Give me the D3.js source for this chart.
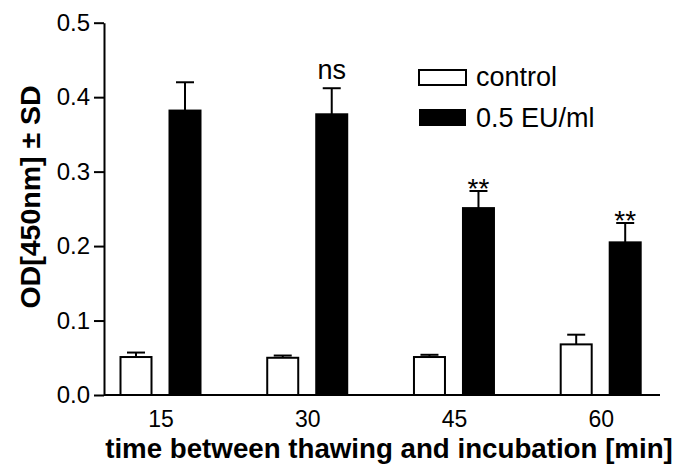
<!DOCTYPE html>
<html>
<head>
<meta charset="utf-8">
<script src="https://cdn.jsdelivr.net/npm/d3@7"></script>
<style>
  html, body { margin: 0; padding: 0; background: #fff; }
  svg { display: block; }
  text { font-family: "Liberation Sans", Arial, Helvetica, sans-serif; fill: #000; }
</style>
</head>
<body>
<div id="chart"></div>
<script>
// time between thawing and incubation [min]
const categories = ['15', '30', '45', '60'];
const series = ['control', '0.5 EU/ml'];

// mean OD values and SD per group
const controlValues = [0.051, 0.050, 0.051, 0.068];
const controlSD = [0.006, 0.003, 0.003, 0.013];
const endotoxinValues = [0.382, 0.377, 0.251, 0.205];
const endotoxinSD = [0.038, 0.035, 0.023, 0.026];

// significance marks above the 0.5 EU/ml bars
const significance = ['', 'ns', '**', '**'];

const yTicks = [0, 0.1, 0.2, 0.3, 0.4, 0.5];

const width = 675, height = 464;
const margin = { top: 22.7, right: 15, bottom: 69, left: 104 };

const svg = d3.select('#chart')
    .append('svg')
    .attr('width', width)
    .attr('height', height);

const y = d3.scaleLinear()
    .domain([0, 0.5])
    .range([height - margin.bottom, margin.top]);

// group centres
const x = d3.scalePoint()
    .domain(categories)
    .range([160.5, 600.7]);

// bars inside a group
const xSub = d3.scaleBand()
    .domain(series)
    .range([-41, 41])
    .paddingInner(16 / 49);

const fills = { 'control': '#fff', '0.5 EU/ml': '#000' };

const rows = categories.map((c, i) => ({
    cat: c,
    bars: [
        { key: 'control', value: controlValues[i], sd: controlSD[i], mark: '' },
        { key: '0.5 EU/ml', value: endotoxinValues[i], sd: endotoxinSD[i], mark: significance[i] }
    ]
}));

const g = svg.append('g');

const bars = g.selectAll('g.group')
    .data(rows)
    .join('g')
    .attr('class', 'group')
    .attr('transform', d => `translate(${x(d.cat)},0)`)
    .selectAll('g.bar')
    .data(d => d.bars)
    .join('g')
    .attr('class', 'bar');

const mid = d => xSub(d.key) + xSub.bandwidth() / 2;

// error bars (upper only)
bars.append('line')
    .attr('x1', mid)
    .attr('x2', mid)
    .attr('y1', d => y(d.value))
    .attr('y2', d => y(d.value + d.sd))
    .attr('stroke', '#000')
    .attr('stroke-width', 2);

bars.append('line')
    .attr('x1', d => mid(d) - 9)
    .attr('x2', d => mid(d) + 9)
    .attr('y1', d => y(d.value + d.sd))
    .attr('y2', d => y(d.value + d.sd))
    .attr('stroke', '#000')
    .attr('stroke-width', 2);

bars.append('rect')
    .attr('x', d => xSub(d.key) + 1)
    .attr('width', xSub.bandwidth() - 2)
    .attr('y', d => y(d.value))
    .attr('height', d => y(0) - y(d.value))
    .attr('fill', d => fills[d.key])
    .attr('stroke', '#000')
    .attr('stroke-width', 2);

// significance labels
bars.filter(d => d.mark)
    .append('text')
    .attr('x', mid)
    .attr('y', d => d.mark === 'ns' ? y(d.value + d.sd) - 9 : y(d.value + d.sd) + 7)
    .attr('text-anchor', 'middle')
    .attr('font-size', d => d.mark === 'ns' ? '27px' : '28px')
    .text(d => d.mark);

// y axis
const yAxis = g.append('g')
    .attr('transform', `translate(${margin.left},0)`)
    .call(d3.axisLeft(y)
        .tickValues(yTicks)
        .tickFormat(d3.format('.1f'))
        .tickSize(10)
        .tickSizeOuter(0)
        .tickPadding(4));

yAxis.selectAll('path, line').attr('stroke', '#000').attr('stroke-width', 2);
yAxis.selectAll('text').attr('font-size', '24px').attr('font-family', null);

// x axis
const xAxis = g.append('g')
    .attr('transform', `translate(0,${y(0)})`)
    .call(d3.axisBottom(x).tickSize(0).tickPadding(16));

xAxis.select('.domain')
    .attr('d', `M${margin.left},0H660`)
    .attr('stroke', '#000')
    .attr('stroke-width', 2);
xAxis.selectAll('text').attr('font-size', '23px').attr('font-family', null);

// axis titles
svg.append('text')
    .attr('x', 389)
    .attr('y', 458)
    .attr('text-anchor', 'middle')
    .attr('font-size', '27.7px')
    .attr('font-weight', 'bold')
    .text('time between thawing and incubation [min]');

svg.append('text')
    .attr('transform', 'translate(39.5,197) rotate(-90)')
    .attr('text-anchor', 'middle')
    .attr('font-size', '28.5px')
    .attr('font-weight', 'bold')
    .text('OD[450nm] ± SD');

// legend
const legend = svg.append('g')
    .attr('transform', 'translate(419,0)');

const legendRows = legend.selectAll('g')
    .data(series)
    .join('g')
    .attr('transform', (d, i) => `translate(0,${i === 0 ? 70 : 109})`);

legendRows.append('rect')
    .attr('width', 47)
    .attr('height', d => d === 'control' ? 15 : 17)
    .attr('fill', d => fills[d])
    .attr('stroke', d => d === 'control' ? '#000' : 'none')
    .attr('stroke-width', 2);

legendRows.append('text')
    .attr('x', 57)
    .attr('y', d => d === 'control' ? 15.5 : 17.5)
    .attr('font-size', '27px')
    .text(d => d);
</script>
</body>
</html>
